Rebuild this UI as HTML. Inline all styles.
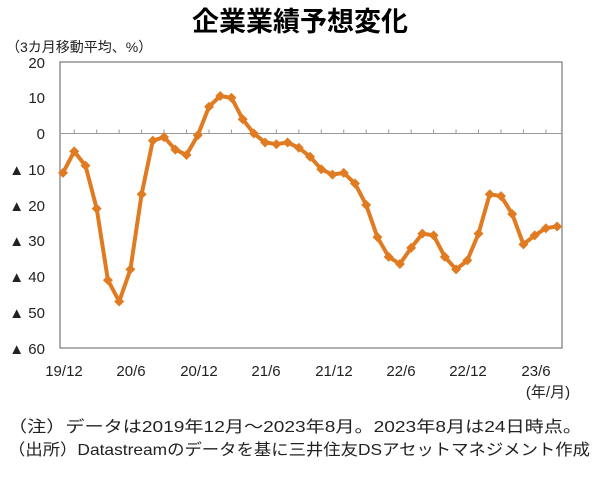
<!DOCTYPE html><html><head><meta charset="utf-8"><style>
body{margin:0;width:600px;height:475px;background:#fff;overflow:hidden;font-family:"Liberation Sans","Noto Sans CJK JP",sans-serif;}
</style></head><body>
<svg width="600" height="475" xmlns="http://www.w3.org/2000/svg" font-family="Liberation Sans, Noto Sans CJK JP, sans-serif">
<text x="300" y="31" text-anchor="middle" font-size="27" font-weight="bold" fill="#000">企業業績予想変化</text>
<text x="6" y="52" font-size="14" fill="#222">（3カ月移動平均、%）</text>
<rect x="60" y="62" width="502" height="286" fill="none" stroke="#777" stroke-width="1.2"/>
<line x1="60" y1="133.5" x2="562" y2="133.5" stroke="#999" stroke-width="1"/>
<g id="ticks" stroke="#999" stroke-width="1"></g>
<g font-size="15" fill="#222" text-anchor="end">
<text x="45" y="68">20</text><text x="45" y="103">10</text><text x="45" y="139">0</text>
<text x="45" y="175">▲ 10</text><text x="45" y="211">▲ 20</text><text x="45" y="246">▲ 30</text>
<text x="45" y="282">▲ 40</text><text x="45" y="318">▲ 50</text><text x="45" y="354">▲ 60</text>
</g>
<g font-size="15" fill="#222" text-anchor="middle">
<text x="64" y="376">19/12</text><text x="131" y="376">20/6</text><text x="199" y="376">20/12</text>
<text x="266" y="376">21/6</text><text x="334" y="376">21/12</text><text x="401" y="376">22/6</text>
<text x="468" y="376">22/12</text><text x="536" y="376">23/6</text>
<text x="548" y="397">(年/月)</text>
</g>
<polyline id="ln" fill="none" stroke="#E07B22" stroke-width="4" stroke-linejoin="round"/>
<g id="mk" fill="#E07B22"></g>
<text x="8" y="432" font-size="16" fill="#222" textLength="574" lengthAdjust="spacingAndGlyphs">（注）データは2019年12月～2023年8月。2023年8月は24日時点。</text>
<text x="8" y="455" font-size="16" fill="#222" textLength="582" lengthAdjust="spacingAndGlyphs">（出所）Datastreamのデータを基に三井住友DSアセットマネジメント作成</text>
</svg>
<script>
var v=[-11,-5,-9,-21,-41,-47,-38,-17,-2,-1,-4.5,-6,-0.5,7.5,10.5,10,4,0,-2.5,-3,-2.5,-4,-6.5,-10,-11.5,-11,-14,-20,-29,-34.5,-36.5,-32,-28,-28.5,-34.5,-38,-35.5,-28,-17,-17.5,-22.5,-31,-28.5,-26.5,-26];
var pts=[],mk='',tk='';
for(var i=0;i<v.length;i++){var x=63+i*11.23,y=133.5-v[i]*3.575;pts.push(x.toFixed(1)+','+y.toFixed(1));
mk+='<polygon points="'+x+','+(y-5)+' '+(x+5)+','+y+' '+x+','+(y+5)+' '+(x-5)+','+y+'"/>';
if(i%2==1)tk+='<line x1="'+x+'" y1="129.5" x2="'+x+'" y2="133.5"/>';}
document.getElementById('ln').setAttribute('points',pts.join(' '));
document.getElementById('mk').innerHTML=mk;
document.getElementById('ticks').innerHTML=tk;
</script>
</body></html>
